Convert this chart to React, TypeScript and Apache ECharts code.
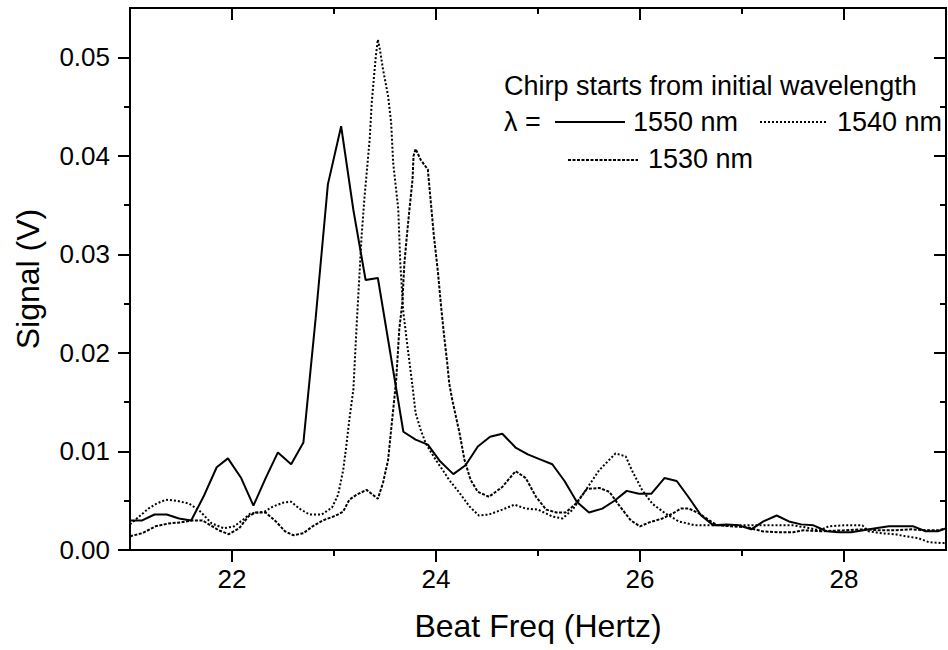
import React, { useEffect, useRef } from "react";
import * as echarts from "echarts";

const FONT = "'Liberation Sans', Arial, sans-serif";

const xMajor = [22, 24, 26, 28];
const xMinor = [23, 25, 27];
const yMajor = [0, 0.01, 0.02, 0.03, 0.04, 0.05];
const yMinor = [0.005, 0.015, 0.025, 0.035, 0.045];

const s1550: number[][] = [
  [21.0, 0.003], [21.12, 0.003], [21.24, 0.0036], [21.36, 0.0036], [21.48, 0.0032], [21.6, 0.003],
  [21.72, 0.0054], [21.85, 0.0084], [21.96, 0.0093], [22.09, 0.0073], [22.21, 0.0045], [22.33, 0.0073],
  [22.45, 0.0099], [22.58, 0.0087], [22.7, 0.0109], [22.82, 0.0235], [22.94, 0.0371], [23.07, 0.043],
  [23.19, 0.0345], [23.31, 0.0274], [23.43, 0.0276], [23.68, 0.012], [23.8, 0.0112], [23.92, 0.0107],
  [24.04, 0.009], [24.17, 0.0077], [24.29, 0.0086], [24.41, 0.0105], [24.53, 0.0115], [24.65, 0.0118],
  [24.78, 0.0104], [24.9, 0.0097], [25.02, 0.0092], [25.14, 0.0087], [25.26, 0.007], [25.38, 0.0049],
  [25.5, 0.0038], [25.63, 0.0042], [25.75, 0.005], [25.87, 0.006], [25.99, 0.0057], [26.11, 0.0057],
  [26.24, 0.0073], [26.36, 0.007], [26.48, 0.0053], [26.6, 0.0035], [26.72, 0.0025], [26.85, 0.0026],
  [26.97, 0.0025], [27.09, 0.0021], [27.21, 0.0029], [27.34, 0.0035], [27.46, 0.0029], [27.58, 0.0026],
  [27.7, 0.0025], [27.83, 0.0019], [27.95, 0.0018], [28.07, 0.0018], [28.19, 0.002], [28.31, 0.0022],
  [28.44, 0.0024], [28.56, 0.0024], [28.68, 0.0024], [28.8, 0.0019], [28.92, 0.0019], [29.0, 0.0022],
];

const s1540: number[][] = [
  [21.0, 0.0026], [21.09, 0.0034], [21.18, 0.0042], [21.26, 0.0047], [21.35, 0.0051], [21.46, 0.005],
  [21.58, 0.0047], [21.68, 0.004], [21.8, 0.0027], [21.92, 0.0022], [22.02, 0.0024], [22.1, 0.003],
  [22.18, 0.0037], [22.26, 0.0038], [22.32, 0.0039], [22.4, 0.0044], [22.5, 0.0048], [22.58, 0.0049],
  [22.66, 0.0042], [22.76, 0.0036], [22.88, 0.0036], [22.98, 0.0043], [23.04, 0.0056], [23.09, 0.0081],
  [23.12, 0.0105], [23.15, 0.0132], [23.19, 0.0163], [23.22, 0.0224], [23.27, 0.0318], [23.3, 0.0359],
  [23.35, 0.0417], [23.37, 0.0454], [23.39, 0.0478], [23.41, 0.0501], [23.43, 0.0518], [23.45, 0.0508],
  [23.48, 0.0488], [23.53, 0.0461], [23.56, 0.0434], [23.58, 0.0393], [23.63, 0.0346], [23.65, 0.0291],
  [23.68, 0.0241], [23.72, 0.0207], [23.77, 0.0166], [23.8, 0.0139], [23.85, 0.0122], [23.9, 0.0108],
  [24.0, 0.0091], [24.06, 0.0082], [24.13, 0.0071], [24.23, 0.0058], [24.33, 0.0044], [24.42, 0.0035],
  [24.52, 0.0036], [24.65, 0.0041], [24.77, 0.0046], [24.88, 0.0042], [25.0, 0.0041], [25.14, 0.0034],
  [25.24, 0.0032], [25.34, 0.0041], [25.45, 0.0058], [25.6, 0.0081], [25.76, 0.0098], [25.86, 0.0095],
  [25.92, 0.0081], [26.02, 0.0061], [26.12, 0.0047], [26.25, 0.0037], [26.38, 0.0029], [26.54, 0.0025],
  [26.7, 0.0025], [26.9, 0.0025], [27.1, 0.0025], [27.3, 0.0025], [27.5, 0.0025], [27.62, 0.0023],
  [27.76, 0.002], [27.85, 0.0024], [28.0, 0.0025], [28.18, 0.0025], [28.24, 0.0019], [28.37, 0.0017],
  [28.5, 0.0016], [28.6, 0.0014], [28.73, 0.0012], [28.83, 0.0008], [28.96, 0.0007], [29.0, 0.0007],
];

const s1530: number[][] = [
  [21.0, 0.0014], [21.12, 0.0017], [21.25, 0.0024], [21.38, 0.0027], [21.5, 0.0028], [21.61, 0.003],
  [21.71, 0.003], [21.79, 0.0025], [21.87, 0.002], [21.97, 0.0016], [22.07, 0.0022], [22.16, 0.0034],
  [22.23, 0.0038], [22.33, 0.0038], [22.43, 0.0029], [22.52, 0.0019], [22.6, 0.0015], [22.7, 0.0017],
  [22.79, 0.0024], [22.89, 0.003], [23.02, 0.0035], [23.09, 0.0039], [23.15, 0.0051], [23.22, 0.0056],
  [23.32, 0.0061], [23.43, 0.0052], [23.48, 0.0068], [23.53, 0.0091], [23.56, 0.0122], [23.59, 0.0152],
  [23.61, 0.0173], [23.64, 0.0224], [23.67, 0.0251], [23.69, 0.0291], [23.72, 0.0325], [23.74, 0.0346],
  [23.77, 0.0376], [23.78, 0.04], [23.8, 0.0407], [23.85, 0.0396], [23.92, 0.0386], [23.95, 0.0352],
  [23.98, 0.0318], [24.02, 0.0281], [24.05, 0.0247], [24.08, 0.0217], [24.11, 0.019], [24.13, 0.0169],
  [24.16, 0.0152], [24.23, 0.0119], [24.28, 0.0091], [24.34, 0.0071], [24.41, 0.0059], [24.52, 0.0054],
  [24.65, 0.0064], [24.78, 0.008], [24.88, 0.0073], [24.98, 0.0054], [25.08, 0.0041], [25.18, 0.0038],
  [25.27, 0.0038], [25.37, 0.0047], [25.48, 0.0062], [25.6, 0.0063], [25.7, 0.0059], [25.79, 0.0046],
  [25.91, 0.003], [26.0, 0.0024], [26.09, 0.0028], [26.22, 0.0032], [26.32, 0.0037], [26.4, 0.0042],
  [26.48, 0.0042], [26.58, 0.0037], [26.68, 0.003], [26.76, 0.0025], [26.9, 0.0024], [27.05, 0.0023],
  [27.2, 0.0019], [27.35, 0.0018], [27.5, 0.0018], [27.6, 0.002], [27.78, 0.0019], [28.0, 0.002],
  [28.2, 0.0021], [28.34, 0.002], [28.5, 0.002], [28.66, 0.0021], [28.8, 0.002], [28.93, 0.002],
  [29.0, 0.0022],
];

const legendTitle = "Chirp starts from initial wavelength";
const legendLambda = "λ =";
const legendNames = ["1550 nm", "1540 nm", "1530 nm"];

export default function App() {
  const ref = useRef<HTMLDivElement>(null);
  useEffect(() => {
    if (!ref.current) return;
    const chart = echarts.init(ref.current, undefined, { renderer: "svg" });
    const line = { color: "#000", width: 2 };
    const lbl = { fontFamily: FONT, fontSize: 26, color: "#000" };
    const xBase = { type: "value", min: 21, max: 29, splitLine: { show: false } };
    const yBase = { type: "value", min: 0, max: 0.055, splitLine: { show: false } };
    const legendText = (text: string, x: number, y: number) => ({
      type: "text", x, y, z: 10,
      style: { text, fill: "#000", font: `27px ${FONT}`, verticalAlign: "middle", align: "left" },
    });
    const sample = (x1: number, x2: number, y: number, dash: any) => ({
      type: "line", z: 10,
      shape: { x1, y1: y, x2, y2: y },
      style: { stroke: "#000", lineWidth: 2, lineDash: dash },
    });
    chart.setOption({
      animation: false,
      backgroundColor: "#fff",
      grid: {
        left: 130, right: 2, top: 8, bottom: 100, containLabel: false,
        show: true, borderColor: "#000", borderWidth: 2, backgroundColor: "transparent",
      },
      xAxis: [
        {
          ...xBase, position: "bottom",
          axisLine: { show: true, onZero: false, lineStyle: line },
          axisTick: { show: true, inside: false, length: 12, customValues: xMajor, lineStyle: line },
          axisLabel: { ...lbl, margin: 16, customValues: xMajor },
          name: "Beat Freq (Hertz)", nameLocation: "middle", nameGap: 60,
          nameTextStyle: { fontFamily: FONT, fontSize: 32, color: "#000" },
        },
        {
          ...xBase, position: "bottom",
          axisLine: { show: false, onZero: false },
          axisTick: { show: true, inside: false, length: 6, customValues: xMinor, lineStyle: line },
          axisLabel: { show: false },
        },
        {
          ...xBase, position: "top",
          axisLine: { show: true, onZero: false, lineStyle: line },
          axisTick: { show: true, inside: true, length: 12, customValues: xMajor, lineStyle: line },
          axisLabel: { show: false },
        },
        {
          ...xBase, position: "top",
          axisLine: { show: false, onZero: false },
          axisTick: { show: true, inside: true, length: 6, customValues: xMinor, lineStyle: line },
          axisLabel: { show: false },
        },
      ],
      yAxis: [
        {
          ...yBase, position: "left",
          axisLine: { show: true, onZero: false, lineStyle: line },
          axisTick: { show: true, inside: false, length: 12, customValues: yMajor, lineStyle: line },
          axisLabel: { ...lbl, margin: 20, customValues: yMajor, formatter: (v: number) => v.toFixed(2) },
          name: "Signal (V)", nameLocation: "middle", nameGap: 86,
          nameTextStyle: { fontFamily: FONT, fontSize: 32, color: "#000" },
        },
        {
          ...yBase, position: "left",
          axisLine: { show: false, onZero: false },
          axisTick: { show: true, inside: false, length: 6, customValues: yMinor, lineStyle: line },
          axisLabel: { show: false },
        },
        {
          ...yBase, position: "right",
          axisLine: { show: true, onZero: false, lineStyle: line },
          axisTick: { show: true, inside: true, length: 12, customValues: yMajor, lineStyle: line },
          axisLabel: { show: false },
        },
        {
          ...yBase, position: "right",
          axisLine: { show: false, onZero: false },
          axisTick: { show: true, inside: true, length: 6, customValues: yMinor, lineStyle: line },
          axisLabel: { show: false },
        },
      ],
      series: [
        {
          name: legendNames[0], type: "line", data: s1550, showSymbol: false,
          lineStyle: { color: "#000", width: 2, type: "solid" }, z: 3,
        },
        {
          name: legendNames[1], type: "line", data: s1540, showSymbol: false,
          lineStyle: { color: "#000", width: 2, type: [2, 2] }, z: 2,
        },
        {
          name: legendNames[2], type: "line", data: s1530, showSymbol: false,
          lineStyle: { color: "#000", width: 2, type: [3, 1.5] }, z: 2,
        },
      ],
      graphic: [
        legendText(legendTitle, 504, 86),
        legendText(legendLambda, 504, 122),
        sample(555, 625, 122, null),
        legendText(legendNames[0], 633, 122),
        sample(760, 828, 122, [2, 2]),
        legendText(legendNames[1], 837, 122),
        sample(568, 638, 160, [3, 1.5]),
        legendText(legendNames[2], 648, 159),
      ],
    });
    return () => chart.dispose();
  }, []);
  return (
    <div
      ref={ref}
      style={{ position: "fixed", left: 0, top: 0, width: 948, height: 650, background: "#fff" }}
    />
  );
}
